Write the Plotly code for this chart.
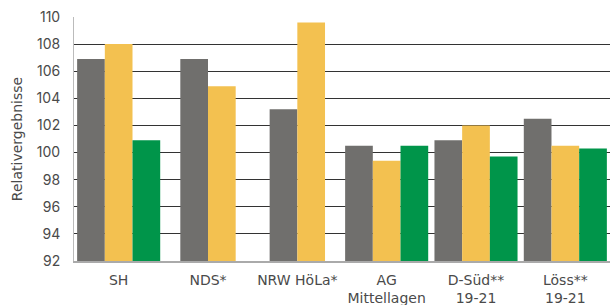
import plotly.graph_objects as go

categories = ["SH", "NDS*", "NRW HöLa*", "AG<br>Mittellagen", "D-Süd**<br>19-21", "Löss**<br>19-21"]
series_names = ["Serie 1", "Serie 2", "Serie 3"]
values_gray = [106.9, 106.9, 103.2, 100.5, 100.9, 102.5]
values_yellow = [108.0, 104.9, 109.6, 99.4, 102.0, 100.5]
values_green = [100.9, None, None, 100.5, 99.7, 100.3]
colors = ["#706f6d", "#f3c150", "#00954a"]

all_series = [values_gray, values_yellow, values_green]
base_val = 92
bw = 0.31

fig = go.Figure()
for si, (vals, name, col) in enumerate(zip(all_series, series_names, colors)):
    offsets = []
    for ci in range(len(categories)):
        present = [k for k in range(len(all_series)) if all_series[k][ci] is not None]
        n = len(present)
        idx = present.index(si) if si in present else 0
        offsets.append(-n * bw / 2 + idx * bw)
    fig.add_trace(go.Bar(
        x=categories, y=[None if v is None else v - base_val for v in vals],
        base=base_val, name=name, marker_color=col, marker_line_width=0,
        width=bw, offset=offsets, hoverinfo="skip",
    ))

fig.update_layout(
    width=610, height=305,
    margin=dict(l=74, r=0, t=17, b=44),
    plot_bgcolor="white", paper_bgcolor="white",
    showlegend=False, barmode="overlay",
    font=dict(family="Inter, Lato, sans-serif", size=13, color="#4a4a4a"),
)
fig.update_xaxes(
    showgrid=False, showline=True, linecolor="#aaaaaa", linewidth=2,
    ticks="", ticklabelstandoff=5,
    tickfont=dict(family="DejaVu Sans", size=14, color="#4a4a4a"), automargin=False,
)
fig.update_yaxes(
    range=[92, 110], dtick=2, tick0=92,
    showgrid=True, gridcolor="#333333", gridwidth=1,
    showline=True, linecolor="#bbbbbb", linewidth=1,
    zeroline=False, ticks="", ticklabelstandoff=10, automargin=False,
    title=dict(text="Relativergebnisse", font=dict(family="DejaVu Sans", size=14, color="#4a4a4a"), standoff=10),
    tickfont=dict(size=14, color="#4a4a4a"),
)
fig.write_html(
    "out.html",
    config={"displayModeBar": False},
    post_script="document.body.style.margin='0';document.body.style.padding='0';",
)
